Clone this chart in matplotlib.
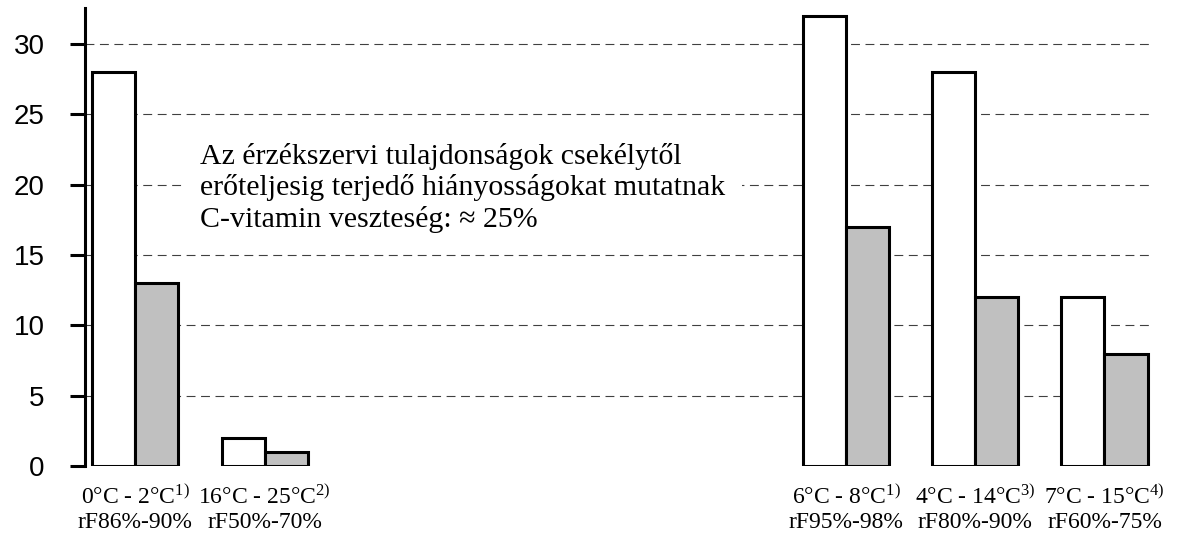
import matplotlib.pyplot as plt
import numpy as np

plt.rcParams['mathtext.fontset'] = 'custom'
plt.rcParams['mathtext.rm'] = 'Liberation Serif'
plt.rcParams['mathtext.default'] = 'regular'

# data
labels = ['0°C - 2°C$^{1)}$\nrF86%-90%',
          '16°C - 25°C$^{2)}$\nrF50%-70%',
          '6°C - 8°C$^{1)}$\nrF95%-98%',
          '4°C - 14°C$^{3)}$\nrF80%-90%',
          '7°C - 15°C$^{4)}$\nrF60%-75%']
positions = [0, 1, 5.5, 6.5, 7.5]
white_vals = [28, 2, 32, 28, 12]
grey_vals = [13, 1, 17, 12, 8]
yticks = [0, 5, 10, 15, 20, 25, 30]

note = ('Az érzékszervi tulajdonságok csekélytől\n'
        'erőteljesig terjedő hiányosságokat mutatnak\n'
        'C-vitamin veszteség: ≈ 25%')

fig = plt.figure(figsize=(11.96, 5.38), dpi=100)
ax = fig.add_axes([85/1196, 72/538, (1151-85)/1196, (465.7-8)/538])

x = np.array(positions)
w = 1/3
xmin, xmax = -0.39, 7.86

# dashed grid lines (none at zero)
ax.hlines(yticks[1:], xmin, xmax, colors='#404040', linewidth=0.8,
          linestyles=(0, (8, 5)), zorder=1)

ax.bar(x - w/2, white_vals, w, color='white', edgecolor='black', linewidth=2.2, zorder=3)
ax.bar(x + w/2, grey_vals, w, color='#c0c0c0', edgecolor='black', linewidth=2.2, zorder=3)

ax.text(0.5, 23.0, note, ha='left', va='top', fontsize=21.5, linespacing=1.22,
        family=['Liberation Serif', 'DejaVu Serif'], zorder=2,
        bbox=dict(facecolor='white', edgecolor='none', pad=12))

ax.set_xlim(xmin, xmax)
ax.set_ylim(0, 32.55)
ax.set_yticks(yticks)
ax.set_yticklabels([str(t) for t in yticks], family='Liberation Sans', fontsize=20)
ax.tick_params(axis='y', length=11, width=2.2, pad=18)

ax.set_xticks(x)
ax.set_xticklabels(labels, family='Liberation Serif', fontsize=17, linespacing=1.2)
ax.tick_params(axis='x', length=0, pad=14)

for s in ['top', 'right', 'bottom']:
    ax.spines[s].set_visible(False)
ax.spines['left'].set_linewidth(2.2)

plt.savefig('out.png', dpi=100)
